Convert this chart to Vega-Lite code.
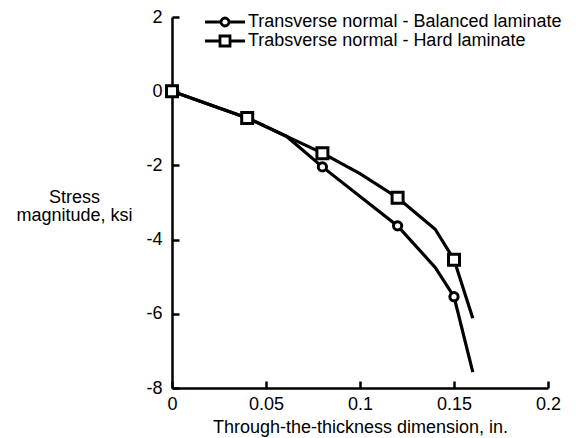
{
  "$schema": "https://vega.github.io/schema/vega-lite/v6.json",
  "autosize": "none",
  "width": 376,
  "height": 371,
  "padding": {"left": 172, "top": 17, "right": 29, "bottom": 50},
  "background": "white",
  "config": {
    "view": {"stroke": null},
    "font": "Liberation Sans",
    "axis": {
      "grid": false,
      "domainColor": "black",
      "domainWidth": 2.5,
      "tickColor": "black",
      "tickWidth": 2.5,
      "tickSize": -7,
      "labelFlush": false,
      "labelFont": "Liberation Sans",
      "labelFontSize": 18,
      "labelColor": "black",
      "titleFont": "Liberation Sans",
      "titleFontSize": 18,
      "titleFontWeight": "normal",
      "titleColor": "black"
    }
  },
  "data": {
    "values": [
      {"x": 0, "y": 0, "series": "Transverse normal - Balanced laminate", "marked": true},
      {"x": 0.04, "y": -0.72, "series": "Transverse normal - Balanced laminate", "marked": true},
      {"x": 0.061, "y": -1.22, "series": "Transverse normal - Balanced laminate", "marked": false},
      {"x": 0.08, "y": -2.04, "series": "Transverse normal - Balanced laminate", "marked": true},
      {"x": 0.12, "y": -3.63, "series": "Transverse normal - Balanced laminate", "marked": true},
      {"x": 0.14, "y": -4.75, "series": "Transverse normal - Balanced laminate", "marked": false},
      {"x": 0.15, "y": -5.54, "series": "Transverse normal - Balanced laminate", "marked": true},
      {"x": 0.16, "y": -7.57, "series": "Transverse normal - Balanced laminate", "marked": false},
      {"x": 0, "y": 0, "series": "Trabsverse normal - Hard laminate", "marked": true},
      {"x": 0.04, "y": -0.72, "series": "Trabsverse normal - Hard laminate", "marked": true},
      {"x": 0.08, "y": -1.67, "series": "Trabsverse normal - Hard laminate", "marked": true},
      {"x": 0.1, "y": -2.22, "series": "Trabsverse normal - Hard laminate", "marked": false},
      {"x": 0.12, "y": -2.87, "series": "Trabsverse normal - Hard laminate", "marked": true},
      {"x": 0.14, "y": -3.72, "series": "Trabsverse normal - Hard laminate", "marked": false},
      {"x": 0.15, "y": -4.54, "series": "Trabsverse normal - Hard laminate", "marked": true},
      {"x": 0.16, "y": -6.12, "series": "Trabsverse normal - Hard laminate", "marked": false}
    ]
  },
  "encoding": {
    "x": {
      "field": "x",
      "type": "quantitative",
      "scale": {"domain": [0, 0.2], "nice": false, "zero": false},
      "axis": {
        "values": [0, 0.05, 0.1, 0.15, 0.2],
        "labelExpr": "'' + datum.value",
        "labelPadding": 14,
        "title": "Through-the-thickness dimension, in.",
        "titlePadding": 5
      }
    },
    "y": {
      "field": "y",
      "type": "quantitative",
      "scale": {"domain": [-8, 2], "nice": false, "zero": false},
      "axis": {
        "values": [-8, -6, -4, -2, 0, 2],
        "labelExpr": "'' + datum.value",
        "labelPadding": 17,
        "title": ["Stress", "magnitude, ksi"],
        "titleAngle": 0,
        "titleAlign": "center",
        "titleBaseline": "middle",
        "titleLineHeight": 18.5,
        "titleX": -98,
        "titleY": 180
      }
    }
  },
  "layer": [
    {
      "mark": {"type": "line", "color": "black", "strokeWidth": 3.2},
      "encoding": {"detail": {"field": "series"}}
    },
    {
      "transform": [{"filter": "datum.marked"}],
      "mark": {"type": "point", "filled": false, "fill": "white", "color": "black", "strokeWidth": 3, "opacity": 1, "size": 121},
      "encoding": {
        "shape": {
          "field": "series",
          "scale": {
            "domain": ["Transverse normal - Balanced laminate", "Trabsverse normal - Hard laminate"],
            "range": ["M-0.75,0A0.75,0.75,0,1,1,0.75,0A0.75,0.75,0,1,1,-0.75,0", "square"]
          },
          "legend": null
        }
      }
    },
    {
      "mark": {"type": "point", "filled": false, "color": "black", "strokeWidth": 2.8, "opacity": 0, "size": 100},
      "encoding": {
        "shape": {
          "field": "series",
          "scale": {
            "domain": ["Transverse normal - Balanced laminate", "Trabsverse normal - Hard laminate"],
            "range": [
              "M-4,0H-0.8M0.8,0H4M-0.8,0A0.8,0.8,0,1,1,0.8,0A0.8,0.8,0,1,1,-0.8,0",
              "M-4,0H-1M1,0H4M-1,-1H1V1H-1Z"
            ]
          },
          "legend": {
            "orient": "none",
            "legendX": 44,
            "legendY": -4,
            "title": null,
            "padding": 0,
            "labelFont": "Liberation Sans",
            "labelFontSize": 18,
            "labelColor": "black",
            "labelLimit": 0,
            "labelOffset": 14,
            "rowPadding": -9,
            "symbolStrokeWidth": 2.8,
            "symbolStrokeColor": "black",
            "symbolSize": 100
          }
        }
      }
    }
  ],
  "resolve": {"scale": {"shape": "independent"}, "legend": {"shape": "independent"}}
}
